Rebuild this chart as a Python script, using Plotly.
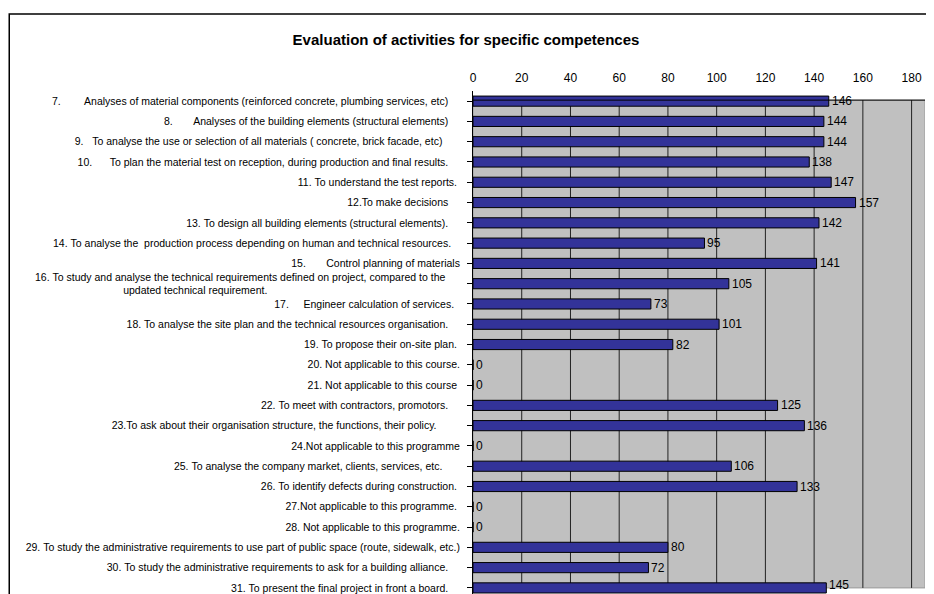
import plotly.graph_objects as go

title = "Evaluation of activities for specific competences"

labels = [
    "7.        Analyses of material components (reinforced concrete, plumbing services, etc)    ",
    "8.       Analyses of the building elements (structural elements)    ",
    "9.   To analyse the use or selection of all materials ( concrete, brick facade, etc)      ",
    "10.      To plan the material test on reception, during production and final results.    ",
    "11. To understand the test reports. ",
    "12.To make decisions    ",
    "13. To design all building elements (structural elements).    ",
    "14. To analyse the  production process depending on human and technical resources.   ",
    "15.       Control planning of materials",
    "16. To study and analyse the technical requirements defined on project, compared to the     <br>updated technical requirement." + " " * 66,
    "17.     Engineer calculation of services.  ",
    "18. To analyse the site plan and the technical resources organisation.    ",
    "19. To propose their on-site plan. ",
    "20. Not applicable to this course.",
    "21. Not applicable to this course ",
    "22. To meet with contractors, promotors.    ",
    "23.To ask about their organisation structure, the functions, their policy.        ",
    "24.Not applicable to this programme",
    "25. To analyse the company market, clients, services, etc.      ",
    "26. To identify defects during construction. ",
    "27.Not applicable to this programme. ",
    "28. Not applicable to this programme.",
    "29. To study the administrative requirements to use part of public space (route, sidewalk, etc.)",
    "30. To study the administrative requirements to ask for a building alliance.    ",
    "31. To present the final project in front a board.    ",
]

values = [146, 144, 144, 138, 147, 157, 142, 95, 141, 105, 73, 101, 82, 0, 0,
          125, 136, 0, 106, 133, 0, 0, 80, 72, 145]

x_ticks = [0, 20, 40, 60, 80, 100, 120, 140, 160, 180]
x_max = 185.5

FONT = "Arial, 'Liberation Sans', sans-serif"
BAR = "#333399"
GRAY = "#C0C0C0"

W, H = 926, 586
M_T, M_B = 83, 0
y_lo, y_hi = -0.5, len(labels) - 0.7
px_per_unit = (H - M_T - M_B) / (y_hi - y_lo)
LABEL_SIZE = 12

pos = list(range(len(labels)))
ticktext = [s.replace(" ", "\u00a0") for s in labels]

fig = go.Figure()
fig.add_trace(go.Bar(
    y=pos, x=values, orientation="h", width=0.5,
    marker=dict(color=BAR, line=dict(color="#000000", width=1)),
    hoverinfo="x+y",
))

# value labels, kept inside the chart area (as the spreadsheet does)
annotations = []
for p, v in zip(pos, values):
    center_px = M_T + (p - y_lo) * px_per_unit
    overflow = center_px + LABEL_SIZE * 0.6 - H
    annotations.append(dict(
        x=v, y=p, xref="x", yref="y", text=str(v), showarrow=False,
        xanchor="left", yanchor="middle", xshift=1,
        yshift=(overflow + 2) if overflow > 0 else 0,
        font=dict(family=FONT, size=LABEL_SIZE, color="#000000"),
    ))

top = -0.05
bottom = len(labels) - 1.0

shapes = [
    dict(type="rect", xref="x", yref="y", x0=0, x1=x_max, y0=top, y1=bottom,
         fillcolor=GRAY, line=dict(color="#9a9a9a", width=1), layer="below"),
]
for t in x_ticks[1:]:
    shapes.append(dict(type="line", xref="x", yref="y", x0=t, x1=t, y0=top, y1=bottom,
                       line=dict(color="#222222", width=1), layer="below"))
shapes.append(dict(type="line", xref="x", yref="y", x0=0, x1=x_max, y0=top, y1=top,
                   line=dict(color="#000000", width=1), layer="above"))
# outer chart frame
shapes.append(dict(type="rect", xref="paper", yref="paper", x0=-1.026, x1=1.06,
                   y0=-0.1, y1=1.153, line=dict(color="#000000", width=1.5),
                   fillcolor="rgba(0,0,0,0)", layer="above"))

fig.update_layout(
    width=W, height=H,
    margin=dict(l=465, r=9, t=M_T, b=M_B, autoexpand=False),
    paper_bgcolor="white", plot_bgcolor="white",
    showlegend=False,
    title=dict(text="<b>" + title + "</b>", x=458 / W, xref="container",
               y=1 - 32 / H, yref="container", xanchor="center", yanchor="middle",
               font=dict(family=FONT, size=15, color="#000000")),
    shapes=shapes,
    annotations=annotations,
    xaxis=dict(side="top", range=[0, x_max], tickvals=x_ticks, showgrid=False,
               zeroline=False, showline=False, ticks="outside", ticklen=3,
               tickcolor="rgba(0,0,0,0)",
               tickfont=dict(family=FONT, size=12, color="#000000"), automargin=False),
    yaxis=dict(range=[y_hi, y_lo], tickvals=pos, ticktext=ticktext,
               showgrid=False, zeroline=False, showline=True, linecolor="#000000",
               linewidth=1, ticks="outside", ticklen=5, tickcolor="#000000",
               ticklabelstandoff=5, ticklabeloverflow="allow",
               tickfont=dict(family=FONT, size=10.5, color="#000000"), automargin=False),
)

fig.write_html("out.html")
